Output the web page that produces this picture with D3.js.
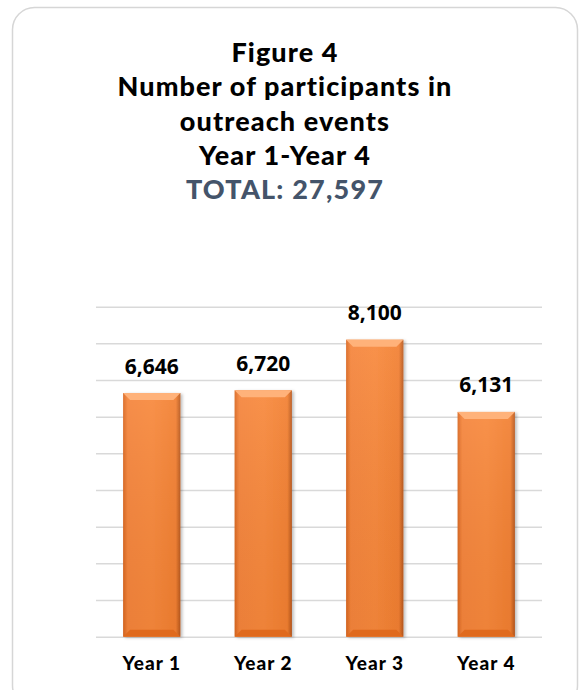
<!DOCTYPE html>
<html>
<head>
<meta charset="utf-8">
<script src="https://cdn.jsdelivr.net/npm/d3@7"></script>
<style>
    body { margin: 0; background: #fff; }
    svg { display: block; }
</style>
</head>
<body>
<svg id="chart"></svg>
<script>
    const years = ["Year 1", "Year 2", "Year 3", "Year 4"];
    const participants = [6646, 6720, 8100, 6131];
    const gridTicks = [0, 1000, 2000, 3000, 4000, 5000, 6000, 7000, 8000, 9000];
    const titleLines = ["Figure 4", "Number of participants in", "outreach events", "Year 1-Year 4"];
    const totalLine = "TOTAL: 27,597";

    const width = 580;
    const height = 690;
    const margin = { top: 306.7, right: 38, bottom: 53.3, left: 96 };

    const svg = d3.select("#chart")
        .attr("width", width)
        .attr("height", height);

    // card outline
    svg.append("rect")
        .attr("x", 12.5)
        .attr("y", 7.5)
        .attr("width", 565)
        .attr("height", 700)
        .attr("rx", 22)
        .attr("fill", "#fff")
        .attr("stroke", "#d6d6d6")
        .attr("stroke-width", 1.5);

    // title
    const titleFont = "Lato, 'DejaVu Sans', sans-serif";
    const title = svg.append("g").attr("class", "title");
    titleLines.forEach((line, i) => {
        title.append("text")
            .attr("x", 285)
            .attr("y", 62 + i * 34.3)
            .attr("text-anchor", "middle")
            .attr("font-family", titleFont)
            .attr("font-weight", 900)
            .attr("font-size", 27)
            .attr("letter-spacing", 1.1)
            .attr("fill", "#000")
            .text(line);
    });
    title.append("text")
        .attr("x", 285)
        .attr("y", 198.5)
        .attr("text-anchor", "middle")
        .attr("font-family", titleFont)
        .attr("font-weight", 900)
        .attr("font-size", 27)
        .attr("letter-spacing", 1.2)
        .attr("fill", "#44546a")
        .text(totalLine);

    const x = d3.scaleBand()
        .domain(years)
        .range([margin.left, width - margin.right])
        .paddingInner(0.486)
        .paddingOuter(0.243);

    const y = d3.scaleLinear()
        .domain([0, 9000])
        .range([height - margin.bottom, margin.top]);

    // gridlines
    svg.append("g")
        .attr("class", "grid")
        .attr("transform", `translate(${margin.left},0)`)
        .call(d3.axisLeft(y).tickValues(gridTicks).tickSize(-(width - margin.right - margin.left)).tickFormat(""))
        .call(g => g.select(".domain").remove())
        .call(g => g.selectAll("line").attr("stroke", "#d9d9d9").attr("stroke-width", 1.5));

    // gradients for the bevelled bars
    const defs = svg.append("defs");
    const body = defs.append("linearGradient").attr("id", "barBody").attr("x1", 0).attr("x2", 1).attr("y1", 0).attr("y2", 0);
    body.append("stop").attr("offset", "0").attr("stop-color", "#d9661f");
    body.append("stop").attr("offset", "0.08").attr("stop-color", "#f5843a");
    body.append("stop").attr("offset", "0.5").attr("stop-color", "#f8883b");
    body.append("stop").attr("offset", "0.92").attr("stop-color", "#f27f30");
    body.append("stop").attr("offset", "1").attr("stop-color", "#b8571c");

    const shade = defs.append("linearGradient").attr("id", "barShade").attr("x1", 0).attr("x2", 0).attr("y1", 0).attr("y2", 1);
    shade.append("stop").attr("offset", "0").attr("stop-color", "#fff").attr("stop-opacity", 0.08);
    shade.append("stop").attr("offset", "1").attr("stop-color", "#000").attr("stop-opacity", 0.04);

    const shadow = defs.append("filter").attr("id", "barShadow").attr("x", "-20%").attr("width", "140%");
    shadow.append("feDropShadow").attr("dx", 2).attr("dy", 1).attr("stdDeviation", 1.5).attr("flood-color", "#000").attr("flood-opacity", 0.25);

    const bevel = 7;
    const bars = svg.append("g").attr("class", "bars");

    years.forEach((year, i) => {
        const x0 = x(year);
        const w = x.bandwidth();
        const top = y(participants[i]);
        const bottom = y(0);
        const g = bars.append("g");

        g.append("rect")
            .attr("x", x0)
            .attr("y", top)
            .attr("width", w)
            .attr("height", bottom - top)
            .attr("fill", "url(#barBody)")
            .attr("filter", "url(#barShadow)");

        g.append("rect")
            .attr("x", x0)
            .attr("y", top)
            .attr("width", w)
            .attr("height", bottom - top)
            .attr("fill", "url(#barShade)");

        // top bevel
        g.append("polygon")
            .attr("points", [[x0, top], [x0 + w, top], [x0 + w - bevel, top + bevel], [x0 + bevel, top + bevel]].join(" "))
            .attr("fill", "#ffb27a");

        // bottom bevel
        g.append("polygon")
            .attr("points", [[x0, bottom], [x0 + w, bottom], [x0 + w - bevel, bottom - bevel], [x0 + bevel, bottom - bevel]].join(" "))
            .attr("fill", "#e06a1d");

        g.append("text")
            .attr("x", x0 + w / 2)
            .attr("y", top - 19.5)
            .attr("text-anchor", "middle")
            .attr("font-family", "'Open Sans', sans-serif")
            .attr("font-weight", 700)
            .attr("font-size", 21)
            .attr("fill", "#000")
            .text(d3.format(",")(participants[i]));
    });

    // category labels
    svg.append("g")
        .attr("class", "x-axis")
        .attr("transform", `translate(0,${height - margin.bottom})`)
        .call(d3.axisBottom(x).tickSize(0).tickPadding(0))
        .call(g => g.select(".domain").remove())
        .call(g => g.selectAll("text")
            .attr("dy", 0)
            .attr("y", 33)
            .attr("font-family", titleFont)
            .attr("font-weight", 900)
            .attr("font-size", 19)
            .attr("letter-spacing", 1)
            .attr("fill", "#000"));
</script>
</body>
</html>
